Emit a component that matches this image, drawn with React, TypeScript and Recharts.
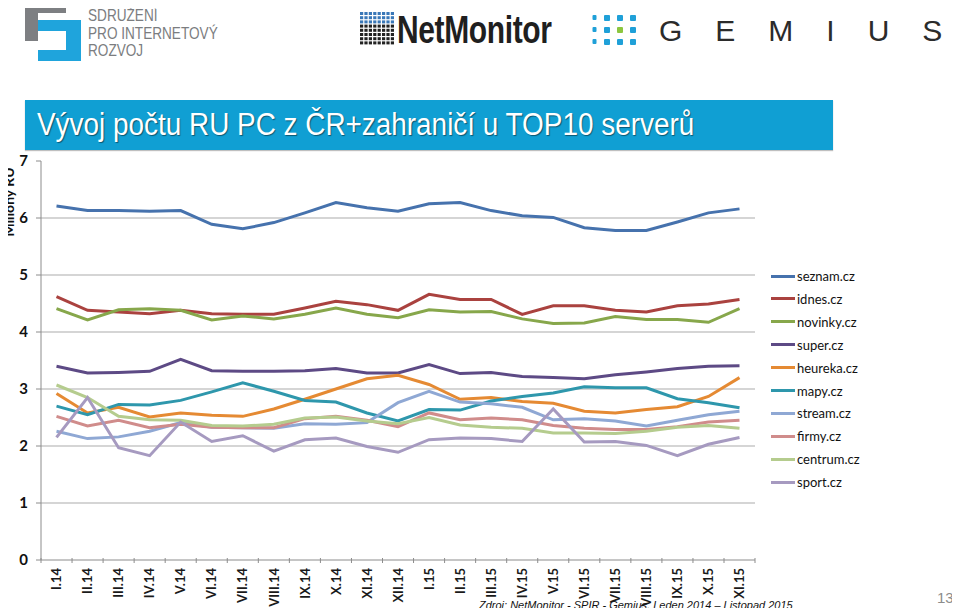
import React from 'react';
import { LineChart, Line, XAxis, YAxis, CartesianGrid } from 'recharts';

const months = ['I.14','II.14','III.14','IV.14','V.14','VI.14','VII.14','VIII.14','IX.14','X.14','XI.14','XII.14','I.15','II.15','III.15','IV.15','V.15','VI.15','VII.15','VIII.15','IX.15','X.15','XI.15'];

const seznam = [6.21,6.13,6.13,6.12,6.13,5.89,5.81,5.92,6.09,6.27,6.18,6.12,6.25,6.27,6.13,6.04,6.01,5.83,5.78,5.78,5.93,6.09,6.16];
const idnes = [4.62,4.38,4.35,4.32,4.38,4.32,4.31,4.31,4.42,4.54,4.48,4.38,4.66,4.57,4.57,4.31,4.46,4.46,4.38,4.35,4.46,4.49,4.57];
const novinky = [4.41,4.21,4.39,4.41,4.38,4.21,4.28,4.23,4.31,4.42,4.31,4.25,4.39,4.35,4.36,4.23,4.15,4.16,4.27,4.22,4.22,4.17,4.41];
const superCz = [3.40,3.28,3.29,3.31,3.52,3.32,3.31,3.31,3.32,3.36,3.28,3.28,3.43,3.27,3.29,3.22,3.20,3.18,3.25,3.30,3.36,3.40,3.41];
const heureka = [2.92,2.58,2.68,2.51,2.58,2.54,2.52,2.65,2.82,3.00,3.18,3.24,3.08,2.82,2.85,2.78,2.75,2.61,2.58,2.64,2.69,2.87,3.20];
const mapy = [2.70,2.55,2.73,2.72,2.80,2.95,3.11,2.96,2.80,2.77,2.58,2.44,2.64,2.63,2.79,2.87,2.93,3.04,3.02,3.02,2.83,2.76,2.67];
const stream = [2.26,2.13,2.16,2.26,2.41,2.33,2.32,2.31,2.39,2.38,2.41,2.76,2.96,2.77,2.74,2.68,2.46,2.48,2.44,2.35,2.45,2.55,2.61];
const firmy = [2.52,2.35,2.45,2.32,2.38,2.33,2.32,2.32,2.48,2.52,2.45,2.34,2.58,2.46,2.49,2.46,2.36,2.31,2.29,2.29,2.34,2.42,2.45];
const centrum = [3.07,2.85,2.52,2.46,2.45,2.36,2.35,2.38,2.49,2.51,2.44,2.39,2.50,2.37,2.33,2.31,2.23,2.23,2.22,2.26,2.33,2.36,2.31];
const sport = [2.15,2.85,1.97,1.83,2.42,2.08,2.18,1.91,2.11,2.14,1.99,1.89,2.11,2.14,2.13,2.08,2.65,2.07,2.08,2.01,1.83,2.03,2.15];

const yTicks = [0, 1, 2, 3, 4, 5, 6, 7];

const series = [
  { key: 'seznam.cz', values: seznam, color: '#4672AD' },
  { key: 'idnes.cz', values: idnes, color: '#AA423F' },
  { key: 'novinky.cz', values: novinky, color: '#87A74B' },
  { key: 'super.cz', values: superCz, color: '#5D4A85' },
  { key: 'heureka.cz', values: heureka, color: '#E58A33' },
  { key: 'mapy.cz', values: mapy, color: '#2E97AC' },
  { key: 'stream.cz', values: stream, color: '#8FA8D4' },
  { key: 'firmy.cz', values: firmy, color: '#D08C8B' },
  { key: 'centrum.cz', values: centrum, color: '#B5CC8E' },
  { key: 'sport.cz', values: sport, color: '#A69AC0' },
];

const data = months.map((m, i) => {
  const row: Record<string, any> = { month: m };
  series.forEach((s) => { row[s.key] = s.values[i]; });
  return row;
});

const HALF_BAND = 15.5;
const AXIS_COLOR = '#8C8C8C';
const SANS = "'Liberation Sans', Arial, sans-serif";
const LABEL_FONT = "Lato, 'Open Sans', sans-serif";

const XTick = (props: any) => {
  const { x, y, payload, index } = props;
  const last = index === months.length - 1;
  return (
    <g>
      <line x1={x - HALF_BAND} y1={y - 8} x2={x - HALF_BAND} y2={y - 3} stroke={AXIS_COLOR} strokeWidth={1} />
      {last && <line x1={x + HALF_BAND} y1={y - 8} x2={x + HALF_BAND} y2={y - 3} stroke={AXIS_COLOR} strokeWidth={1} />}
      <g transform={`translate(${x},${y})`}>
        <text
          transform="rotate(-90)"
          x={-2}
          y={0}
          dy="0.36em"
          textAnchor="end"
          fontFamily={LABEL_FONT}
          fontWeight={700}
          fontSize={13}
          fill="#1a1a1a"
        >
          {payload.value}
        </text>
      </g>
    </g>
  );
};

const YTitle = () => (
  <text
    transform="translate(14,202) rotate(-90)"
    textAnchor="middle"
    fontFamily={LABEL_FONT}
    fontWeight={700}
    fontSize={14}
    fill="#111"
  >
    Miliony RU
  </text>
);

const SpirLogo = () => (
  <div style={{ position: 'absolute', left: 24, top: 1, width: 210, height: 62 }}>
    <svg width={60} height={62} style={{ position: 'absolute', left: 0, top: 0 }}>
      <path d="M1 1 H42 V12 H14 V40 H1 Z" fill="#7d7f82" />
      <path d="M14 19 H57 V60 H14 V49 H42 V30 H14 Z" fill="#1fa4dc" />
    </svg>
    <div
      style={{
        position: 'absolute',
        left: 64,
        top: 6,
        fontFamily: SANS,
        fontSize: 17,
        lineHeight: '17.5px',
        color: '#7b7d80',
        whiteSpace: 'nowrap',
        transform: 'scaleX(0.8)',
        transformOrigin: 'left top',
      }}
    >
      <div>SDRUŽENÍ</div>
      <div>PRO INTERNETOVÝ</div>
      <div>ROZVOJ</div>
    </div>
  </div>
);

const NetMonitorLogo = () => {
  const cells: React.ReactNode[] = [];
  for (let r = 0; r < 8; r++) {
    for (let c = 0; c < 8; c++) {
      cells.push(
        <rect key={`${r}-${c}`} x={c * 4.4} y={r * 4.2} width={3.2} height={3} fill={r < 3 ? '#3a78b8' : '#222'} />
      );
    }
  }
  return (
    <div style={{ position: 'absolute', left: 360, top: 12 }}>
      <svg width={36} height={36} style={{ position: 'absolute', left: 0, top: 0 }}>{cells}</svg>
      <div
        style={{
          position: 'absolute',
          left: 37,
          top: -3,
          fontFamily: SANS,
          fontWeight: 700,
          fontSize: 38,
          lineHeight: '42px',
          color: '#1f1f1f',
          whiteSpace: 'nowrap',
          letterSpacing: -0.5,
          transform: 'scaleX(0.79)',
          transformOrigin: 'left top',
        }}
      >
        NetMonitor
      </div>
    </div>
  );
};

const GemiusLogo = () => {
  const dots: React.ReactNode[] = [];
  for (let r = 0; r < 3; r++) {
    for (let c = 0; c < 4; c++) {
      const green = r === 1 && c === 2;
      dots.push(
        <rect key={`${r}-${c}`} x={c * 13 + (c === 0 ? 1.5 : 0)} y={r * 12} width={c === 0 ? 4 : 6} height={c === 0 ? 5 : 6} rx={1} fill={green ? '#8cc63f' : '#1fa0d8'} />
      );
    }
  }
  return (
    <div style={{ position: 'absolute', left: 591, top: 15 }}>
      <svg width={50} height={32} style={{ position: 'absolute', left: 0, top: 0 }}>{dots}</svg>
      <div
        style={{
          position: 'absolute',
          left: 68,
          top: 0,
          fontFamily: SANS,
          fontSize: 30,
          lineHeight: '32px',
          color: '#2b2b2b',
          whiteSpace: 'nowrap',
        }}
      >
        <span style={{ letterSpacing: 33 }}>GEMIU</span>S
      </div>
    </div>
  );
};

export default function App() {
  return (
    <div style={{ position: 'relative', width: 960, height: 616, margin: -8, background: '#fff', overflow: 'hidden' }}>
      <SpirLogo />
      <NetMonitorLogo />
      <GemiusLogo />

      <div
        style={{
          position: 'absolute',
          left: 25,
          top: 100,
          width: 808,
          height: 50,
          background: '#109FD3',
          boxShadow: '0 1px 1px rgba(0,0,0,0.25)',
        }}
      >
        <div
          style={{
            position: 'absolute',
            left: 12,
            top: 7,
            fontFamily: SANS,
            fontSize: 31,
            color: '#fff',
            whiteSpace: 'nowrap',
            textShadow: '1px 1px 1px rgba(0,0,0,0.45)',
            transform: 'scaleX(0.9)',
            transformOrigin: 'left top',
          }}
        >
          Vývoj počtu RU PC z ČR+zahraničí u TOP10 serverů
        </div>
      </div>

      <div style={{ position: 'absolute', left: 0, top: 0 }}>
        <LineChart width={960} height={616} data={data} margin={{ top: 161, right: 205, bottom: 16, left: 11 }}>
          <CartesianGrid horizontal vertical={false} stroke="#ABABAB" strokeWidth={1} horizontalValues={[1, 2, 3, 4, 5, 6]} />
          <XAxis
            dataKey="month"
            interval={0}
            height={40}
            padding={{ left: HALF_BAND, right: HALF_BAND }}
            tickLine={false}
            axisLine={{ stroke: AXIS_COLOR }}
            tick={<XTick />}
            tickMargin={0}
          />
          <YAxis
            width={30}
            domain={[0, 7]}
            ticks={yTicks}
            interval={0}
            tickSize={5}
            tickMargin={8}
            tickLine={{ stroke: AXIS_COLOR }}
            axisLine={{ stroke: AXIS_COLOR }}
            tick={{ fontFamily: LABEL_FONT, fontWeight: 700, fontSize: 15, fill: '#111' }}
            label={{ content: () => <YTitle /> }}
          />
          {series.map((s) => (
            <Line
              key={s.key}
              type="linear"
              dataKey={s.key}
              stroke={s.color}
              strokeWidth={3}
              dot={false}
              activeDot={false}
              isAnimationActive={false}
            />
          ))}
        </LineChart>
      </div>

      <div style={{ position: 'absolute', left: 771, top: 266 }}>
        {series.map((s, i) => (
          <div key={s.key} style={{ position: 'absolute', left: 0, top: i * 22.9, height: 20, display: 'flex', alignItems: 'center', whiteSpace: 'nowrap' }}>
            <div style={{ width: 24, height: 3, background: s.color }} />
            <span style={{ marginLeft: 2, fontFamily: LABEL_FONT, fontSize: 13, color: '#111' }}>{s.key}</span>
          </div>
        ))}
      </div>

      <div
        style={{
          position: 'absolute',
          left: 479,
          top: 598,
          fontFamily: SANS,
          fontStyle: 'italic',
          fontSize: 11,
          lineHeight: '14px',
          color: '#111',
          whiteSpace: 'nowrap',
        }}
      >
        Zdroj: NetMonitor - SPIR - Gemius, Leden 2014 – Listopad 2015
      </div>

      <div
        style={{
          position: 'absolute',
          left: 937,
          top: 589,
          fontFamily: SANS,
          fontSize: 15,
          lineHeight: '18px',
          color: '#8c8c8c',
        }}
      >
        13
      </div>
    </div>
  );
}
